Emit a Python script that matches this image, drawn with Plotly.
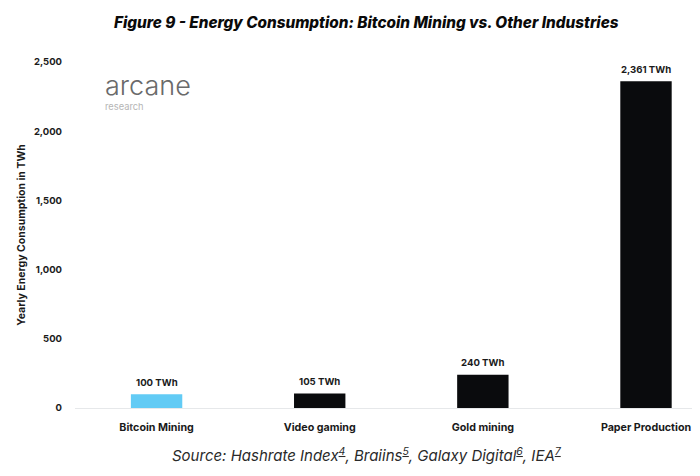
import plotly.graph_objects as go

categories = ["Bitcoin Mining", "Video gaming", "Gold mining", "Paper Production"]
values = [100, 105, 240, 2361]
labels = ["100 TWh", "105 TWh", "240 TWh", "2,361 TWh"]
colors = ["#62CBF5", "#0A0B0D", "#0A0B0D", "#0A0B0D"]
tick_vals = [0, 500, 1000, 1500, 2000, 2500]
tick_text = ["0", "500", "1,000", "1,500", "2,000", "2,500"]

FONT = "Inter"
PAGE = 8  # body margin of the page
W, H = 700 - PAGE, 476 - PAGE
L, R, T, B = 67, 0, 54, 68

fig = go.Figure(go.Bar(
    x=list(range(len(categories))), y=values, width=0.315,
    marker=dict(color=colors, line=dict(width=0)),
    hoverinfo="skip",
))

for i, (v, lab) in enumerate(zip(values, labels)):
    fig.add_annotation(
        x=i, y=v, xref="x", yref="y", text=lab, showarrow=False,
        yanchor="middle", yshift=12,
        font=dict(family=FONT, size=9.6, color="#1a1a1a", weight=700),
    )

def ann(x, y, text, size, color="#111", family=FONT, weight=400, italic=False, anchor="center"):
    x -= PAGE
    y -= PAGE
    fig.add_annotation(
        xref="paper", yref="paper",
        x=(x - L) / (W - L - R), y=(H - B - y) / (H - T - B),
        text=text, showarrow=False, xanchor=anchor, yanchor="middle",
        font=dict(family=family, size=size, color=color, weight=weight,
                  style="italic" if italic else "normal"),
    )

ann(366, 22, "Figure 9 - Energy Consumption: Bitcoin Mining vs. Other Industries", 15.3, "#0a0a0a", weight=800, italic=True)
ann(103, 86, "arcane", 27, "#6a6a6a", FONT, 300, anchor="left")
ann(103, 106.5, "research", 9.3, "#b5b5b5", FONT, 400, anchor="left")
ann(367, 455, "Source: Hashrate Index<sup><u>4</u></sup>, Braiins<sup><u>5</u></sup>, Galaxy Digital<sup><u>6</u></sup>, IEA<sup><u>7</u></sup>", 15, "#2a2a2a", FONT, 400, True)

fig.update_layout(
    width=W, height=H, autosize=False,
    margin=dict(l=L, r=R, t=T, b=B),
    paper_bgcolor="white", plot_bgcolor="white",
    showlegend=False,
    font=dict(family=FONT, color="#1a1a1a"),
    xaxis=dict(
        range=[-0.5, 3.331], tickmode="array",
        tickvals=list(range(len(categories))), ticktext=categories,
        tickfont=dict(family=FONT, size=10.7, color="#1a1a1a", weight=700),
        showgrid=False, zeroline=False, showline=True, linecolor="#E6E8EA", linewidth=1,
        ticks="", ticklabelstandoff=9,
    ),
    yaxis=dict(
        range=[0, 2500], tickmode="array", tickvals=tick_vals, ticktext=tick_text,
        tickfont=dict(family=FONT, size=9.5, color="#1a1a1a", weight=700),
        showgrid=False, zeroline=False, showline=False, ticks="", ticklabelstandoff=12,
        title=dict(text="Yearly Energy Consumption in TWh", standoff=6,
                   font=dict(family=FONT, size=10.5, color="#1a1a1a", weight=700)),
    ),
)
fig.write_html("out.html")
